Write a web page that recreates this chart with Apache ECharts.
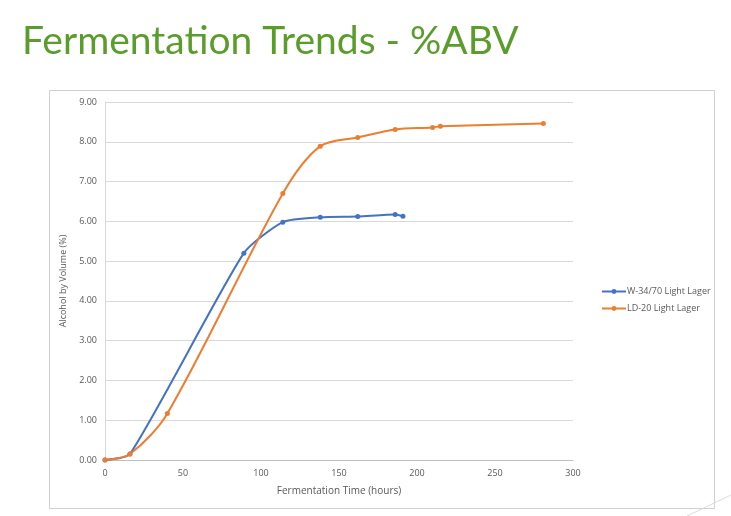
<!DOCTYPE html>
<html>
<head>
<meta charset="utf-8">
<script src="https://cdn.jsdelivr.net/npm/echarts@6/dist/echarts.min.js"></script>
<style>
html,body{margin:0;padding:0;background:#fff;}
#chart{width:731px;height:516px;}
</style>
</head>
<body>
<div id="chart"></div>
<script>
var titleText = 'Fermentation Trends - %ABV';
var xAxisName = 'Fermentation Time (hours)';
var yAxisName = 'Alcohol by Volume (%)';
var seriesNames = ['W-34/70 Light Lager', 'LD-20 Light Lager'];
var w34Hours = [0, 16, 89, 114, 138, 162, 186, 191];
var w34Abv = [0, 0.15, 5.20, 5.98, 6.10, 6.12, 6.17, 6.13];
var ld20Hours = [0, 16, 40, 114, 138, 162, 186, 210, 215, 281];
var ld20Abv = [0, 0.15, 1.17, 6.70, 7.89, 8.11, 8.31, 8.36, 8.39, 8.46];

function pairs(xs, ys){ return xs.map(function(x,i){ return [x, ys[i]]; }); }

var chart = echarts.init(document.getElementById('chart'));
var labelColor = '#595959';
chart.setOption({
  animation: false,
  backgroundColor: '#ffffff',
  title: {
    text: titleText,
    left: 17, top: 17,
    textStyle: { fontFamily: 'Lato', fontSize: 39, fontWeight: 'normal', color: '#5b9d2b' }
  },
  graphic: [
    { type: 'rect', shape: { x: 49.5, y: 90.5, width: 665, height: 418 }, style: { fill: 'none', stroke: '#d0d0d0', lineWidth: 1 }, silent: true },
    { type: 'line', shape: { x1: 687, y1: 516, x2: 731, y2: 495 }, style: { stroke: '#dcdcdc', lineWidth: 1 }, silent: true }
  ],
  legend: {
    orient: 'vertical',
    left: 596, top: 282,
    itemWidth: 24, itemHeight: 6, itemGap: 8,
    textStyle: { fontFamily: 'Open Sans', fontSize: 9, color: labelColor, padding: [0,0,0,-4] },
    data: seriesNames
  },
  grid: { left: 105, right: 158, top: 102, bottom: 56, containLabel: false },
  xAxis: {
    type: 'value', min: 0, max: 300, interval: 50,
    name: xAxisName, nameLocation: 'middle', nameGap: 26,
    nameTextStyle: { fontFamily: 'Open Sans', fontSize: 10, color: labelColor },
    axisLine: { show: true, lineStyle: { color: '#bfbfbf' } },
    axisTick: { show: false },
    axisLabel: { fontFamily: 'Open Sans', fontSize: 9, color: labelColor, margin: 9 },
    splitLine: { show: false }
  },
  yAxis: {
    type: 'value', min: 0, max: 9, interval: 1,
    name: yAxisName, nameLocation: 'middle', nameGap: 30, nameRotate: 90,
    nameTextStyle: { fontFamily: 'Open Sans', fontSize: 9, color: labelColor },
    axisLine: { show: true, lineStyle: { color: '#d9d9d9' } },
    axisTick: { show: false },
    axisLabel: { fontFamily: 'Open Sans', fontSize: 9, color: labelColor, margin: 8,
      formatter: function(v){ return v.toFixed(2); } },
    splitLine: { show: true, lineStyle: { color: '#d9d9d9' } }
  },
  series: [
    {
      name: seriesNames[0], type: 'line', data: pairs(w34Hours, w34Abv),
      smooth: 0.2, symbol: 'circle', symbolSize: 5, clip: true,
      itemStyle: { color: '#4472c4' }, lineStyle: { width: 2, color: '#4472c4' }
    },
    {
      name: seriesNames[1], type: 'line', data: pairs(ld20Hours, ld20Abv),
      smooth: 0.3, symbol: 'circle', symbolSize: 5, clip: true,
      itemStyle: { color: '#ed7d31' }, lineStyle: { width: 2, color: '#ed7d31' }
    }
  ]
});
</script>
</body>
</html>
